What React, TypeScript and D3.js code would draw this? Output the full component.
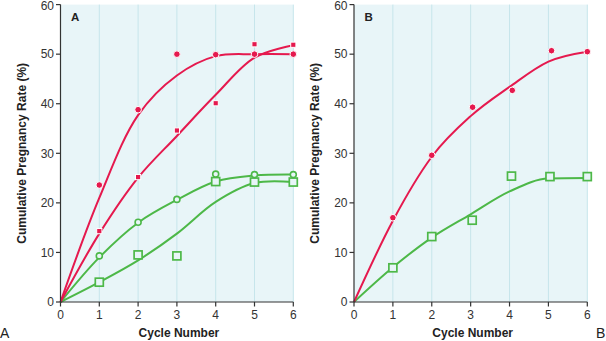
import React from "react";
import * as d3 from "d3";

// ---------- data ----------
const cycles = [0, 1, 2, 3, 4, 5, 6];
const yTicks = [0, 10, 20, 30, 40, 50, 60];

// Panel A observed points
const aRedCircleX = [1, 2, 3, 4, 5, 6];
const aRedCircleY = [23.6, 38.8, 50.0, 49.9, 50.0, 50.0];
const aRedSquareX = [1, 2, 3, 4, 5, 6];
const aRedSquareY = [14.3, 25.2, 34.6, 40.1, 52.0, 51.9];
const aGreenCircleX = [1, 2, 3, 4, 5, 6];
const aGreenCircleY = [9.3, 16.1, 20.7, 25.8, 25.7, 25.7];
const aGreenSquareX = [1, 2, 3, 4, 5, 6];
const aGreenSquareY = [4.0, 9.5, 9.3, 24.3, 24.2, 24.2];

// Panel A fitted curves (values at cycles 0..6)
const aRedCircleFit = [0, 21.0, 37.7, 45.7, 49.6, 50.0, 50.0];
const aRedSquareFit = [0, 13.8, 25.1, 33.5, 41.8, 49.3, 51.8];
const aGreenCircleFit = [0, 9.0, 16.0, 20.6, 24.3, 25.5, 25.7];
const aGreenSquareFit = [0, 4.0, 8.4, 13.8, 20.2, 24.0, 24.2];

// Panel B observed points
const bRedX = [1, 2, 3.05, 4.07, 5.08, 6];
const bRedY = [17.0, 29.6, 39.3, 42.7, 50.7, 50.5];
const bGreenX = [1, 2, 3.04, 4.05, 5.04, 6];
const bGreenY = [6.9, 13.2, 16.5, 25.4, 25.3, 25.3];

// Panel B fitted curves
const bRedFit = [0, 16.4, 29.3, 37.5, 43.4, 48.5, 50.5];
const bGreenFit = [0, 7.0, 13.0, 17.7, 22.3, 24.9, 25.0];

// ---------- style ----------
const RED = "#e5194e";
const GREEN = "#4db848";
const BG = "#e8f5f8";
const GRID = "#c6e5eb";
const AXIS = "#333";
const FONT = "'Liberation Sans', Arial, Helvetica, sans-serif";

const yScale = d3.scaleLinear().domain([0, 60]).range([302, 4.6]);

type Pt = [number, number];

function zip(xs: number[], ys: number[]): Pt[] {
  return xs.map((x, i) => [x, ys[i]] as Pt);
}

function Panel({
  x0,
  x1,
  label,
  curves,
  markers,
}: {
  x0: number;
  x1: number;
  label: string;
  curves: { data: number[]; color: string; smooth: boolean }[];
  markers: { pts: Pt[]; kind: string }[];
}) {
  const x = d3.scaleLinear().domain([0, 6]).range([x0, x1]);
  const mkLine = (smooth: boolean) =>
    d3
      .line<number>()
      .x((_, i) => x(cycles[i]))
      .y((d) => yScale(d))
      .curve(smooth ? d3.curveCatmullRom.alpha(0.5) : d3.curveMonotoneX);
  const yTop = yScale(60);
  const yBot = yScale(0);
  return (
    <g>
      <rect x={x0} y={yTop} width={x1 - x0} height={yBot - yTop} fill={BG} />
      {cycles.slice(1).map((c) => (
        <line key={c} x1={x(c)} x2={x(c)} y1={yTop} y2={yBot} stroke={GRID} strokeWidth={1} />
      ))}
      {curves.map((c, i) => (
        <path key={i} d={mkLine(c.smooth)(c.data) || ""} fill="none" stroke={c.color} strokeWidth={2} />
      ))}
      {markers.map((m, mi) =>
        m.pts.map((p, i) => {
          const cx = x(p[0]);
          const cy = yScale(p[1]);
          if (m.kind === "redCircle")
            return <circle key={mi + "-" + i} cx={cx} cy={cy} r={3.3} fill={RED} stroke="white" strokeWidth={1} />;
          if (m.kind === "redSquare")
            return <rect key={mi + "-" + i} x={cx - 2.6} y={cy - 2.6} width={5.2} height={5.2} fill={RED} stroke="white" strokeWidth={1} />;
          if (m.kind === "greenCircle")
            return <circle key={mi + "-" + i} cx={cx} cy={cy} r={3} fill={BG} stroke={GREEN} strokeWidth={1.6} />;
          return <rect key={mi + "-" + i} x={cx - 4} y={cy - 4} width={8} height={8} fill={BG} stroke={GREEN} strokeWidth={1.7} />;
        })
      )}
      {/* axes */}
      <line x1={x0} x2={x0} y1={yTop} y2={yBot} stroke={AXIS} strokeWidth={1.2} />
      <line x1={x0} x2={x1} y1={yBot} y2={yBot} stroke={AXIS} strokeWidth={1.2} />
      {yTicks.map((t) => (
        <g key={t}>
          <line x1={x0 - 4.5} x2={x0} y1={yScale(t)} y2={yScale(t)} stroke={AXIS} strokeWidth={1.2} />
          <text x={x0 - 6.5} y={Math.max(yScale(t) + 4.3, 9.6)} textAnchor="end" fontSize={12} fill={AXIS} fontFamily={FONT}>
            {t}
          </text>
        </g>
      ))}
      {cycles.map((c) => (
        <g key={c}>
          <line x1={x(c)} x2={x(c)} y1={yBot} y2={yBot + 4.5} stroke={AXIS} strokeWidth={1.2} />
          <text x={x(c)} y={yBot + 17} textAnchor="middle" fontSize={12} fill={AXIS} fontFamily={FONT}>
            {c}
          </text>
        </g>
      ))}
      <text x={(x0 + x1) / 2 + 2} y={337} textAnchor="middle" fontSize={12} fontWeight="bold" fill="#222" fontFamily={FONT}>
        Cycle Number
      </text>
      <text
        transform={`translate(${x0 - 35},${(yTop + yBot) / 2}) rotate(-90)`}
        textAnchor="middle"
        fontSize={12}
        fontWeight="bold"
        fill="#222"
        fontFamily={FONT}
      >
        Cumulative Pregnancy Rate (%)
      </text>
      <text x={x0 + 10.5} y={21} fontSize={11.5} fontWeight="bold" fill="#222" fontFamily={FONT}>
        {label}
      </text>
    </g>
  );
}

export default function App() {
  return (
    <svg width={606} height={341} style={{ position: "absolute", left: 0, top: 0, background: "white" }}>
      <Panel
        x0={60.5}
        x1={293.3}
        label="A"
        curves={[
          { data: aGreenSquareFit, color: GREEN, smooth: true },
          { data: aGreenCircleFit, color: GREEN, smooth: true },
          { data: aRedSquareFit, color: RED, smooth: true },
          { data: aRedCircleFit, color: RED, smooth: true },
        ]}
        markers={[
          { pts: zip(aGreenSquareX, aGreenSquareY), kind: "greenSquare" },
          { pts: zip(aGreenCircleX, aGreenCircleY), kind: "greenCircle" },
          { pts: zip(aRedSquareX, aRedSquareY), kind: "redSquare" },
          { pts: zip(aRedCircleX, aRedCircleY), kind: "redCircle" },
        ]}
      />
      <Panel
        x0={354}
        x1={587.3}
        label="B"
        curves={[
          { data: bGreenFit, color: GREEN, smooth: false },
          { data: bRedFit, color: RED, smooth: false },
        ]}
        markers={[
          { pts: zip(bGreenX, bGreenY), kind: "greenSquare" },
          { pts: zip(bRedX, bRedY), kind: "redCircle" },
        ]}
      />
      <text x={0} y={338} fontSize={14} fill="#222" fontFamily={FONT}>
        A
      </text>
      <text x={596} y={338} fontSize={14} fill="#222" fontFamily={FONT}>
        B
      </text>
    </svg>
  );
}
